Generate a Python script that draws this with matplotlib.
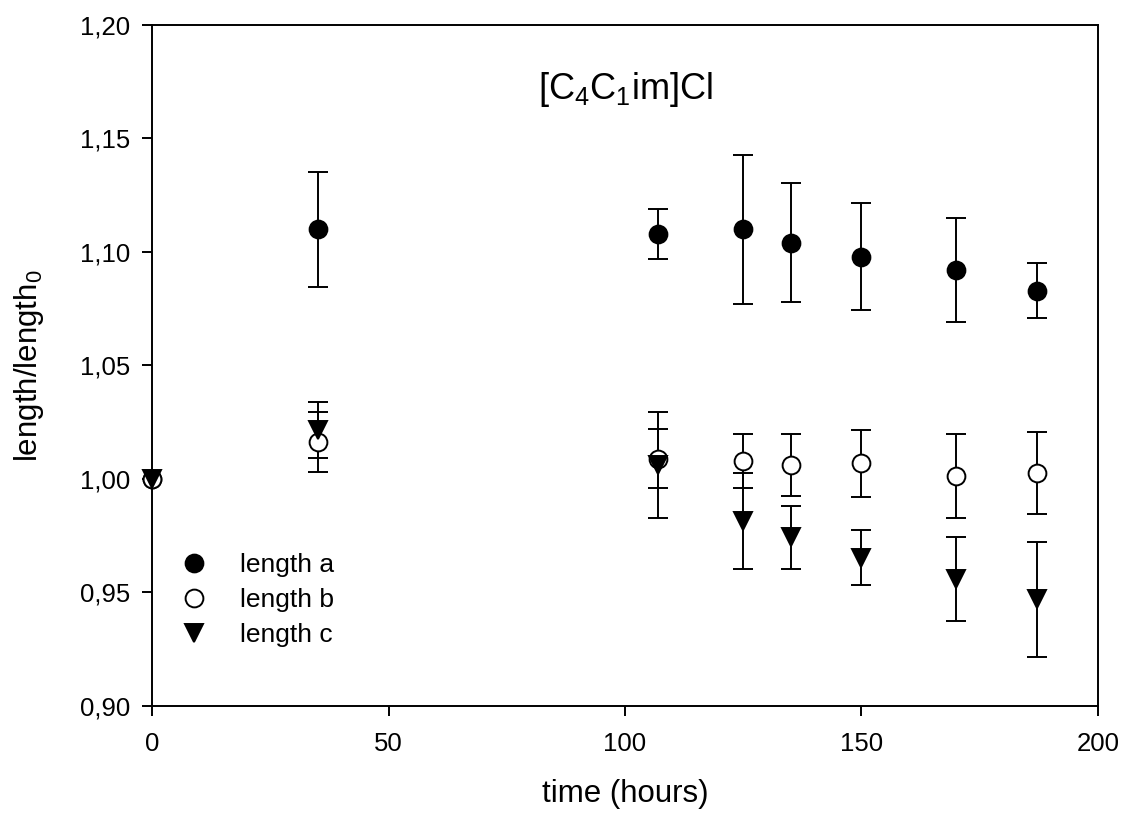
import matplotlib
matplotlib.use('Agg')
import matplotlib.pyplot as plt
from matplotlib.ticker import FuncFormatter

# values
HOURS = [0, 35, 107, 125, 135, 150, 170, 187]

LENGTH_A = [1.000, 1.110, 1.108, 1.110, 1.104, 1.098, 1.092, 1.083]
LENGTH_A_ERR = [0.0, 0.0253, 0.0109, 0.0327, 0.0262, 0.0236, 0.0228, 0.0122]

LENGTH_B = [1.000, 1.0163, 1.0089, 1.0079, 1.0062, 1.0069, 1.0013, 1.0026]
LENGTH_B_ERR = [0.0, 0.013, 0.013, 0.0118, 0.0135, 0.0147, 0.0185, 0.018]

LENGTH_C = [1.000, 1.0215, 1.0061, 0.9815, 0.9743, 0.9654, 0.9559, 0.9470]
LENGTH_C_ERR = [0.0, 0.0124, 0.0232, 0.021, 0.014, 0.0122, 0.0185, 0.0252]

SERIES_LABELS = ['length a', 'length b', 'length c']

X_TICKS = [0, 50, 100, 150, 200]
Y_TICKS = [0.90, 0.95, 1.00, 1.05, 1.10, 1.15, 1.20]

plt.rcParams['font.family'] = ['Liberation Sans', 'DejaVu Sans']
plt.rcParams['mathtext.fontset'] = 'custom'
plt.rcParams['mathtext.rm'] = 'Liberation Sans'
plt.rcParams['mathtext.it'] = 'Liberation Sans'


def comma(v, pos):
    return f'{v:.2f}'.replace('.', ',')


def main() -> None:
    fig = plt.figure(figsize=(11.22, 8.16), dpi=100)
    ax = fig.add_axes([0.1355, 0.1348, 0.8431, 0.8346])

    series = [
        (LENGTH_A, LENGTH_A_ERR, dict(marker='o', mfc='black', mec='black')),
        (LENGTH_B, LENGTH_B_ERR, dict(marker='o', mfc='white', mec='black')),
        (LENGTH_C, LENGTH_C_ERR, dict(marker='v', mfc='black', mec='black')),
    ]

    handles = []
    for (y, err, style), label in zip(series, SERIES_LABELS):
        xs = [h for h, e in zip(HOURS, err) if e > 0]
        ys = [v for v, e in zip(y, err) if e > 0]
        es = [e for e in err if e > 0]
        ax.errorbar(xs, ys, yerr=es, fmt='none', ecolor='black',
                    elinewidth=1.4, capsize=7.5, capthick=1.4, zorder=2)
        line, = ax.plot(HOURS, y, linestyle='none', markersize=12.8,
                        markeredgewidth=1.4, label=label, zorder=3,
                        clip_on=False, **style)
        handles.append(line)

    ax.set_xlim(0, 200)
    ax.set_ylim(0.90, 1.20)
    ax.set_xticks(X_TICKS)
    ax.set_yticks(Y_TICKS)
    ax.yaxis.set_major_formatter(FuncFormatter(comma))
    ax.tick_params(direction='out', length=7, width=1.4, labelsize=18.5)
    ax.tick_params(axis='x', pad=12)
    ax.tick_params(axis='y', pad=9)

    for spine in ax.spines.values():
        spine.set_linewidth(1.4)

    ax.set_xlabel('time (hours)', fontsize=22.5, labelpad=16)
    ax.set_ylabel('length/length$_0$', fontsize=22.5, labelpad=24)

    ax.text(0.5, 0.905, r'[C$_4$C$_1$im]Cl', transform=ax.transAxes,
            ha='center', va='center', fontsize=26)

    ax.legend(handles=handles, loc='upper left', bbox_to_anchor=(0.0304, 0.225),
              frameon=False, fontsize=19, handlelength=1.0, handletextpad=1.24,
              labelspacing=0.42, borderpad=0, borderaxespad=0)

    fig.savefig('out.png', dpi=100)


if __name__ == '__main__':
    main()
